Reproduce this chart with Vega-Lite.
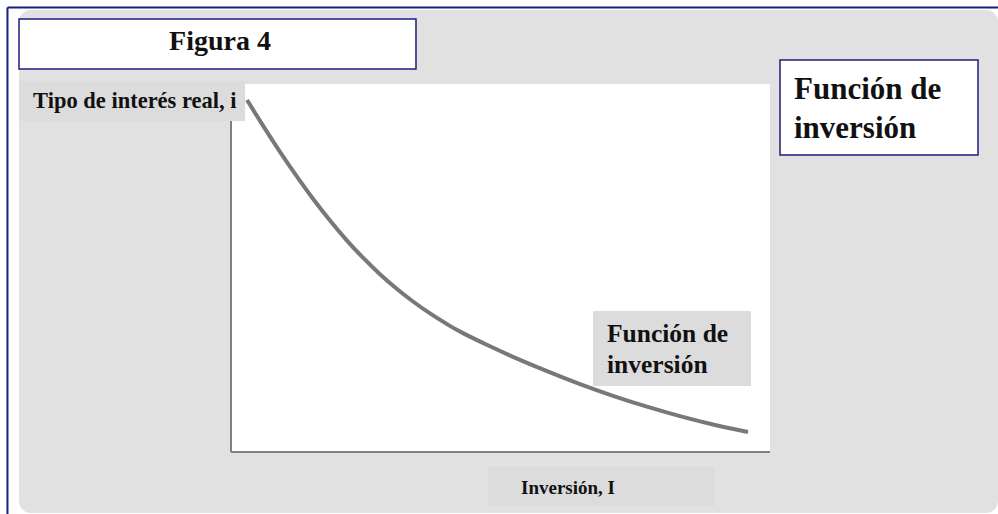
{
  "$schema": "https://vega.github.io/schema/vega-lite/v6.json",
  "width": 539,
  "height": 368,
  "autosize": {"type": "none"},
  "padding": {"left": 231, "top": 84, "right": 228, "bottom": 62},
  "background": "white",
  "config": {"view": {"stroke": null}},
  "datasets": {
    "frame": [{"x1": -39.33, "x2": 142.3, "y1": -16.58, "y2": 120.11}],
    "border": [
      {"x1": -41.47, "x2": -41.47, "y1": -18, "y2": 120.79},
      {"x1": -41.47, "x2": 146, "y1": 120.79, "y2": 120.79}
    ],
    "plot": [{"x1": 0, "x2": 100, "y1": 0, "y2": 100}],
    "axes": [
      {"x1": 0, "x2": 0, "y1": 0, "y2": 100},
      {"x1": 0, "x2": 100, "y1": 0, "y2": 0}
    ],
    "curve": [
      {"inv": 2.97, "tasa": 95.65},
      {"inv": 5.94, "tasa": 88.7},
      {"inv": 9.09, "tasa": 81.58},
      {"inv": 12.24, "tasa": 74.84},
      {"inv": 15.21, "tasa": 68.83},
      {"inv": 18.37, "tasa": 62.91},
      {"inv": 21.52, "tasa": 57.45},
      {"inv": 24.49, "tasa": 52.8},
      {"inv": 27.64, "tasa": 48.32},
      {"inv": 30.8, "tasa": 44.29},
      {"inv": 33.77, "tasa": 40.9},
      {"inv": 36.92, "tasa": 37.66},
      {"inv": 40.07, "tasa": 34.76},
      {"inv": 43.04, "tasa": 32.31},
      {"inv": 48.05, "tasa": 28.72},
      {"inv": 52.32, "tasa": 25.87},
      {"inv": 58.63, "tasa": 21.96},
      {"inv": 64.75, "tasa": 18.45},
      {"inv": 70.87, "tasa": 15.27},
      {"inv": 77.18, "tasa": 12.31},
      {"inv": 83.3, "tasa": 9.73},
      {"inv": 89.42, "tasa": 7.47},
      {"inv": 95.92, "tasa": 5.43}
    ],
    "whiteboxes": [
      {"x1": -39.33, "x2": 34.32, "y1": 104.08, "y2": 117.66},
      {"x1": 101.86, "x2": 138.59, "y1": 80.71, "y2": 106.52}
    ],
    "grayboxes": [
      {"x1": -39.33, "x2": 2.6, "y1": 89.95, "y2": 100.82},
      {"x1": 67.16, "x2": 96.47, "y1": 17.93, "y2": 38.32},
      {"x1": 47.68, "x2": 89.8, "y1": -14.67, "y2": -4.08}
    ],
    "labels": [
      {"role": "figura", "text": "Figura 4", "x": -2.04, "y": 109.24},
      {"role": "yaxis", "text": "Tipo de interés real, i", "x": -36.73, "y": 93.48},
      {"role": "titulo", "text": "Función de", "x": 104.45, "y": 95.92},
      {"role": "titulo", "text": "inversión", "x": 104.45, "y": 85.33},
      {"role": "curva", "text": "Función de", "x": 69.76, "y": 29.89},
      {"role": "curva", "text": "inversión", "x": 69.76, "y": 21.47},
      {"role": "xaxis", "text": "Inversión, I", "x": 53.8, "y": -11.41}
    ]
  },
  "layer": [
    {
      "data": {"name": "frame"},
      "mark": {"type": "rect", "fill": "#e1e1e1", "cornerRadius": 12},
      "encoding": {
        "x": {"field": "x1", "type": "quantitative", "scale": {"domain": [0, 100], "nice": false, "zero": false}, "axis": null},
        "x2": {"field": "x2"},
        "y": {"field": "y1", "type": "quantitative", "scale": {"domain": [0, 100], "nice": false, "zero": false}, "axis": null},
        "y2": {"field": "y2"}
      }
    },
    {
      "data": {"name": "border"},
      "mark": {"type": "rule", "stroke": "#1c1c80", "strokeWidth": 2},
      "encoding": {
        "x": {"field": "x1", "type": "quantitative"},
        "x2": {"field": "x2"},
        "y": {"field": "y1", "type": "quantitative"},
        "y2": {"field": "y2"}
      }
    },
    {
      "data": {"name": "plot"},
      "mark": {"type": "rect", "fill": "white"},
      "encoding": {
        "x": {"field": "x1", "type": "quantitative"},
        "x2": {"field": "x2"},
        "y": {"field": "y1", "type": "quantitative"},
        "y2": {"field": "y2"}
      }
    },
    {
      "data": {"name": "axes"},
      "mark": {"type": "rule", "stroke": "#808080", "strokeWidth": 2},
      "encoding": {
        "x": {"field": "x1", "type": "quantitative"},
        "x2": {"field": "x2"},
        "y": {"field": "y1", "type": "quantitative"},
        "y2": {"field": "y2"}
      }
    },
    {
      "data": {"name": "curve"},
      "mark": {"type": "line", "stroke": "#787878", "strokeWidth": 4, "interpolate": "natural"},
      "encoding": {
        "x": {"field": "inv", "type": "quantitative"},
        "y": {"field": "tasa", "type": "quantitative"}
      }
    },
    {
      "data": {"name": "whiteboxes"},
      "mark": {"type": "rect", "fill": "white", "stroke": "#1c1c80", "strokeWidth": 1.5},
      "encoding": {
        "x": {"field": "x1", "type": "quantitative"},
        "x2": {"field": "x2"},
        "y": {"field": "y1", "type": "quantitative"},
        "y2": {"field": "y2"}
      }
    },
    {
      "data": {"name": "grayboxes"},
      "mark": {"type": "rect", "fill": "#dcdcdc"},
      "encoding": {
        "x": {"field": "x1", "type": "quantitative"},
        "x2": {"field": "x2"},
        "y": {"field": "y1", "type": "quantitative"},
        "y2": {"field": "y2"}
      }
    },
    {
      "data": {"name": "labels"},
      "transform": [{"filter": "datum.role === 'figura'"}],
      "mark": {"type": "text", "font": "Liberation Serif", "fontWeight": "bold", "fontSize": 28, "align": "center", "baseline": "alphabetic", "color": "#111"},
      "encoding": {
        "x": {"field": "x", "type": "quantitative"},
        "y": {"field": "y", "type": "quantitative"},
        "text": {"field": "text"}
      }
    },
    {
      "data": {"name": "labels"},
      "transform": [{"filter": "datum.role === 'yaxis'"}],
      "mark": {"type": "text", "font": "Liberation Serif", "fontWeight": "bold", "fontSize": 22.5, "align": "left", "baseline": "alphabetic", "color": "#111"},
      "encoding": {
        "x": {"field": "x", "type": "quantitative"},
        "y": {"field": "y", "type": "quantitative"},
        "text": {"field": "text"}
      }
    },
    {
      "data": {"name": "labels"},
      "transform": [{"filter": "datum.role === 'titulo'"}],
      "mark": {"type": "text", "font": "Liberation Serif", "fontWeight": "bold", "fontSize": 31, "align": "left", "baseline": "alphabetic", "color": "#111"},
      "encoding": {
        "x": {"field": "x", "type": "quantitative"},
        "y": {"field": "y", "type": "quantitative"},
        "text": {"field": "text"}
      }
    },
    {
      "data": {"name": "labels"},
      "transform": [{"filter": "datum.role === 'curva'"}],
      "mark": {"type": "text", "font": "Liberation Serif", "fontWeight": "bold", "fontSize": 25.5, "align": "left", "baseline": "alphabetic", "color": "#111"},
      "encoding": {
        "x": {"field": "x", "type": "quantitative"},
        "y": {"field": "y", "type": "quantitative"},
        "text": {"field": "text"}
      }
    },
    {
      "data": {"name": "labels"},
      "transform": [{"filter": "datum.role === 'xaxis'"}],
      "mark": {"type": "text", "font": "Liberation Serif", "fontWeight": "bold", "fontSize": 19, "align": "left", "baseline": "alphabetic", "color": "#111"},
      "encoding": {
        "x": {"field": "x", "type": "quantitative"},
        "y": {"field": "y", "type": "quantitative"},
        "text": {"field": "text"}
      }
    }
  ]
}
